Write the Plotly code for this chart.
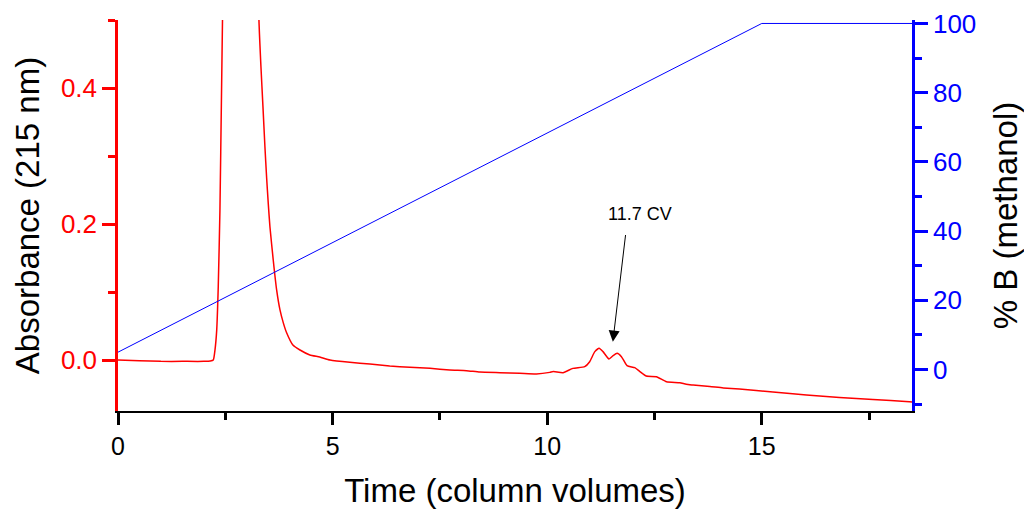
import plotly.graph_objects as go

# Absorbance trace (time in column volumes, absorbance at 215 nm)
abs_time = [0, 0.5, 1.0, 1.5, 2.0, 2.15, 2.22, 2.26, 2.30, 2.336, 2.375, 2.41,
            2.6, 2.85, 3.1, 3.284, 3.33, 3.377, 3.423, 3.463, 3.50, 3.54, 3.617,
            3.696, 3.773, 3.85, 3.929, 4.075, 4.24, 4.47, 4.70, 4.94, 5.40, 5.87,
            6.33, 6.80, 7.27, 7.73, 8.12, 8.43, 8.90, 9.36, 9.75, 10.06, 10.14,
            10.37, 10.60, 10.875, 10.99, 11.11, 11.21, 11.30, 11.44, 11.535, 11.63,
            11.73, 11.86, 12.04, 12.16, 12.31, 12.545, 12.78, 13.09, 13.24, 13.40,
            13.79, 14.1, 14.48, 14.87, 15.26, 16.04, 16.81, 17.59, 18.44, 18.5]
absorbance = [0.0, -0.001, -0.002, -0.002, -0.002, -0.0015, 0.0, 0.015, 0.044,
              0.108, 0.22, 0.383, 1.2, 1.6, 1.2, 0.50, 0.432, 0.373, 0.314, 0.268,
              0.231, 0.196, 0.147, 0.103, 0.074, 0.055, 0.040, 0.022, 0.0147,
              0.0074, 0.0044, 0.0, -0.0034, -0.0059, -0.0088, -0.0108, -0.0123,
              -0.0147, -0.0157, -0.0177, -0.0187, -0.0196, -0.0206, -0.0182,
              -0.017, -0.0187, -0.0123, -0.0098, -0.0025, 0.0123, 0.0172, 0.0123,
              0.0015, 0.0064, 0.0098, 0.0049, -0.0083, -0.0113, -0.017, -0.0236,
              -0.0245, -0.032, -0.0334, -0.0358, -0.0368, -0.039, -0.041, -0.0425,
              -0.0447, -0.047, -0.0515, -0.055, -0.058, -0.0614, -0.0617]

# Gradient (% B methanol)
grad_time = [0, 15, 18.5]
grad_b = [5, 100, 100]

x_ticks = [0, 5, 10, 15]
y_ticks = [0.0, 0.2, 0.4]
y2_ticks = [0, 20, 40, 60, 80, 100]

peak_label = "11.7 CV"
peak_arrow_head = (11.53, 0.027)
peak_arrow_tail = (11.83, 0.186)
peak_label_pos = (12.16, 0.215)

FONT = "Liberation Sans, Arial, sans-serif"
RED = "#ff0000"
BLUE = "#0000ff"

fig = go.Figure()
fig.add_trace(go.Scatter(x=abs_time, y=absorbance, mode="lines",
                         line=dict(color=RED, width=1.5, shape="spline", smoothing=0.5),
                         yaxis="y", showlegend=False))
fig.add_trace(go.Scatter(x=grad_time, y=grad_b, mode="lines",
                         line=dict(color=BLUE, width=1), yaxis="y2", showlegend=False))

fig.update_layout(
    width=1024, height=509,
    margin=dict(l=118, r=112, t=20, b=98),
    paper_bgcolor="white", plot_bgcolor="white",
    font=dict(family=FONT, color="black"),
    xaxis=dict(
        range=[0, 18.5], tickvals=x_ticks, showgrid=False, zeroline=False, automargin=False,
        showline=True, linecolor="black", linewidth=2,
        ticks="outside", ticklen=12, tickwidth=2.5, tickcolor="black",
        minor=dict(dtick=2.5, ticks="outside", ticklen=7, tickwidth=2.5, tickcolor="black", showgrid=False),
        tickfont=dict(size=25, color="black", family=FONT),
        title=dict(text="Time (column volumes)", font=dict(size=33, color="black", family=FONT), standoff=20),
    ),
    yaxis=dict(
        range=[-0.075, 0.5], tickvals=y_ticks, tickformat=".1f", showgrid=False, zeroline=False,
        automargin=False,
        showline=True, linecolor=RED, linewidth=2.5,
        ticks="outside", ticklen=13, tickwidth=2.5, tickcolor=RED,
        minor=dict(dtick=0.1, ticks="outside", ticklen=7, tickwidth=2.5, tickcolor=RED, showgrid=False),
        tickfont=dict(size=26, color=RED, family=FONT),
        title=dict(text="Absorbance (215 nm)", font=dict(size=33, color="black", family=FONT), standoff=12),
    ),
    yaxis2=dict(
        range=[-12, 101], tickvals=y2_ticks, overlaying="y", side="right", showgrid=False, zeroline=False,
        automargin=False,
        showline=True, linecolor=BLUE, linewidth=2.5,
        ticks="outside", ticklen=13, tickwidth=2.5, tickcolor=BLUE,
        minor=dict(dtick=10, ticks="outside", ticklen=7, tickwidth=2.5, tickcolor=BLUE, showgrid=False),
        tickfont=dict(size=26, color=BLUE, family=FONT),
        title=dict(text="% B (methanol)", font=dict(size=33, color="black", family=FONT), standoff=20),
    ),
    annotations=[
        dict(x=peak_arrow_head[0], y=peak_arrow_head[1], ax=peak_arrow_tail[0], ay=peak_arrow_tail[1],
             xref="x", yref="y", axref="x", ayref="y", text="", showarrow=True,
             arrowhead=2, arrowsize=2.2, arrowwidth=1, arrowcolor="black"),
        dict(x=peak_label_pos[0], y=peak_label_pos[1], xref="x", yref="y", text=peak_label,
             showarrow=False, font=dict(size=18, color="black", family=FONT)),
    ],
)

fig.write_html("out.html")
